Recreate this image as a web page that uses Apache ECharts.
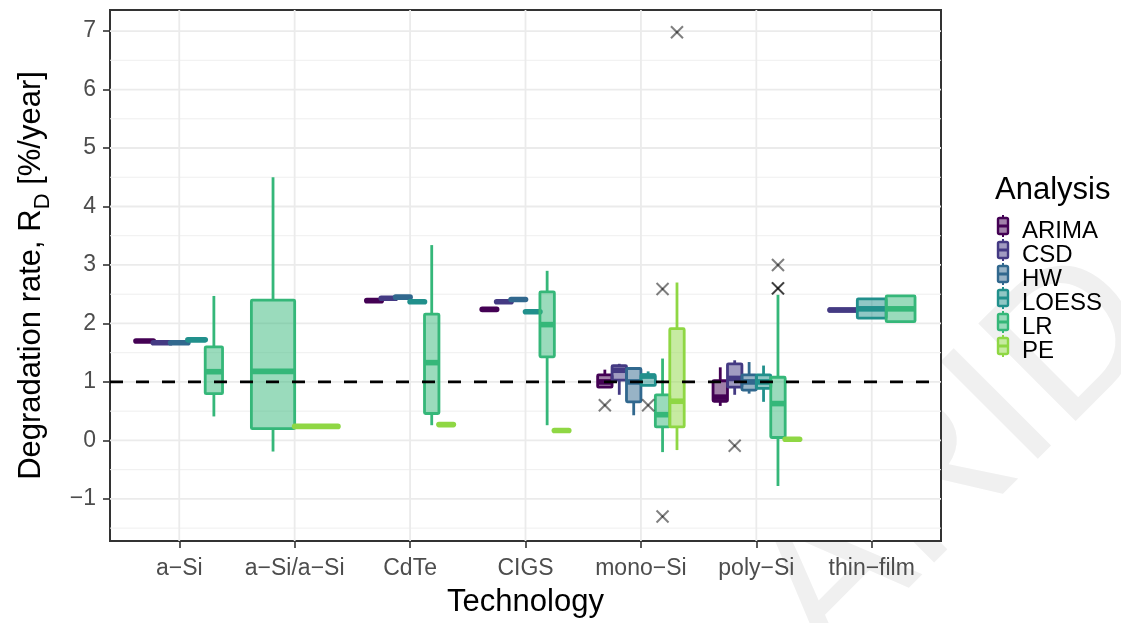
<!DOCTYPE html>
<html>
<head>
<meta charset="utf-8">
<script src="https://cdn.jsdelivr.net/npm/echarts@6/dist/echarts.min.js"></script>
<style>
  html, body { margin: 0; padding: 0; background: #ffffff; }
  #chart { width: 1121px; height: 623px; }
</style>
</head>
<body>
<div id="chart"></div>
<script>
// Technologies on the x axis and the degradation-rate estimators compared for each
const technologies = ['a−Si', 'a−Si/a−Si', 'CdTe', 'CIGS', 'mono−Si', 'poly−Si', 'thin−film'];
const analyses = ['ARIMA', 'CSD', 'HW', 'LOESS', 'LR', 'PE'];
const colors = ['#440154', '#443A83', '#31688E', '#21908C', '#35B779', '#8FD744'];

const yTicks = [-1, 0, 1, 2, 3, 4, 5, 6, 7];
const yMinor = [-1.5, -0.5, 0.5, 1.5, 2.5, 3.5, 4.5, 5.5, 6.5];
const referenceRate = 1;

// Box summaries per technology: [lower whisker, Q1, median, Q3, upper whisker]
const arima = [
  [1.70, 1.70, 1.70, 1.70, 1.70], null, [2.39, 2.39, 2.39, 2.39, 2.39], [2.24, 2.24, 2.24, 2.24, 2.24],
  [0.91, 0.91, 1.00, 1.12, 1.21], [0.59, 0.67, 0.74, 1.02, 1.25], null
];
const csd = [
  [1.67, 1.67, 1.67, 1.67, 1.67], null, [2.43, 2.43, 2.43, 2.43, 2.43], [2.37, 2.37, 2.37, 2.37, 2.37],
  [0.78, 1.03, 1.20, 1.28, 1.31], [0.78, 0.91, 1.06, 1.31, 1.37], [2.21, 2.21, 2.23, 2.25, 2.25]
];
const hw = [
  [1.67, 1.67, 1.67, 1.67, 1.67], null, [2.45, 2.45, 2.45, 2.45, 2.45], [2.41, 2.41, 2.41, 2.41, 2.41],
  [0.43, 0.66, 1.00, 1.23, 1.23], [0.80, 0.86, 1.00, 1.12, 1.34], null
];
const loess = [
  [1.72, 1.72, 1.72, 1.72, 1.72], null, [2.37, 2.37, 2.37, 2.37, 2.37], [2.20, 2.20, 2.20, 2.20, 2.20],
  [0.94, 0.94, 1.10, 1.12, 1.18], [0.66, 0.89, 1.00, 1.12, 1.28], [2.09, 2.09, 2.25, 2.42, 2.42]
];
const lr = [
  [0.41, 0.80, 1.175, 1.60, 2.47], [-0.19, 0.20, 1.18, 2.40, 4.50], [0.26, 0.46, 1.33, 2.16, 3.34],
  [0.26, 1.43, 1.98, 2.54, 2.90], [-0.20, 0.23, 0.44, 0.78, 1.40], [-0.78, 0.05, 0.63, 1.08, 2.49],
  [2.03, 2.03, 2.25, 2.47, 2.47]
];
const pe = [
  null, [0.24, 0.24, 0.24, 0.24, 0.24], [0.27, 0.27, 0.27, 0.27, 0.27], [0.17, 0.17, 0.17, 0.17, 0.17],
  [-0.165, 0.23, 0.67, 1.91, 2.70], [0.02, 0.02, 0.02, 0.02, 0.02], null
];

// Outlying estimates: [technology index, rate]
const arimaOutliers = [[4, 0.60]];
const csdOutliers = [[5, -0.09]];
const hwOutliers = [];
const loessOutliers = [[4, 0.60]];
const lrOutliers = [[4, 2.59], [4, -1.30], [5, 2.60], [5, 2.60], [5, 3.00]];
const peOutliers = [[4, 6.98]];

const boxSets = [arima, csd, hw, loess, lr, pe];
const outlierSets = [arimaOutliers, csdOutliers, hwOutliers, loessOutliers, lrOutliers, peOutliers];

// Dodge boxes side by side within each technology, sharing a total width of 0.75
const dodgeWidth = 0.75;
function slot(techIdx, seriesIdx) {
  const present = [];
  boxSets.forEach((set, i) => { if (set[techIdx]) present.push(i); });
  const n = present.length;
  const k = present.indexOf(seriesIdx);
  const w = dodgeWidth / n;
  return { x: techIdx - dodgeWidth / 2 + (k + 0.5) * w, w: w };
}

function hexToRgba(hex, a) {
  const v = parseInt(hex.slice(1), 16);
  return 'rgba(' + ((v >> 16) & 255) + ',' + ((v >> 8) & 255) + ',' + (v & 255) + ',' + a + ')';
}

function boxRenderer(color) {
  return function (params, api) {
    const x = api.value(0), w = api.value(6);
    const pLo = api.coord([x, api.value(1)]);
    const pQ1 = api.coord([x, api.value(2)]);
    const pMed = api.coord([x, api.value(3)]);
    const pQ3 = api.coord([x, api.value(4)]);
    const pHi = api.coord([x, api.value(5)]);
    const half = api.size([w, 0])[0] / 2;
    const lineW = 2.8;
    const flat = pQ1[1] - pQ3[1] < 1;
    const children = [];
    if (pHi[1] < pQ3[1]) {
      children.push({ type: 'line', shape: { x1: pQ3[0], y1: pQ3[1], x2: pHi[0], y2: pHi[1] },
        style: { stroke: color, lineWidth: lineW } });
    }
    if (pLo[1] > pQ1[1]) {
      children.push({ type: 'line', shape: { x1: pQ1[0], y1: pQ1[1], x2: pLo[0], y2: pLo[1] },
        style: { stroke: color, lineWidth: lineW } });
    }
    children.push({ type: 'rect',
      shape: { x: pQ1[0] - half, y: pQ3[1], width: half * 2, height: pQ1[1] - pQ3[1], r: 1 },
      style: { fill: hexToRgba(color, 0.5), stroke: color, lineWidth: lineW, lineJoin: 'round' } });
    children.push({ type: 'line',
      shape: { x1: pMed[0] - half, y1: pMed[1], x2: pMed[0] + half, y2: pMed[1] },
      style: { stroke: color, lineWidth: 5.6, lineCap: flat ? 'round' : 'butt' } });
    return { type: 'group', children: children };
  };
}

function outlierRenderer(params, api) {
  const p = api.coord([api.value(0), api.value(1)]);
  const s = 6;
  const style = { stroke: 'rgba(0,0,0,0.5)', lineWidth: 2 };
  return { type: 'group', children: [
    { type: 'line', shape: { x1: p[0] - s, y1: p[1] - s, x2: p[0] + s, y2: p[1] + s }, style: style },
    { type: 'line', shape: { x1: p[0] - s, y1: p[1] + s, x2: p[0] + s, y2: p[1] - s }, style: style }
  ] };
}

const series = [];

// Panel grid lines
series.push({
  type: 'custom', name: 'gridY', silent: true, z: 1, clip: false,
  data: yTicks.map(v => [0, v]),
  renderItem: function (params, api) {
    const cs = params.coordSys;
    const y = api.coord([0, api.value(1)])[1];
    return { type: 'line', shape: { x1: cs.x, y1: y, x2: cs.x + cs.width, y2: y },
      style: { stroke: '#EBEBEB', lineWidth: 1.8 } };
  }
});
series.push({
  type: 'custom', name: 'gridYMinor', silent: true, z: 1, clip: false,
  data: yMinor.map(v => [0, v]),
  renderItem: function (params, api) {
    const cs = params.coordSys;
    const y = api.coord([0, api.value(1)])[1];
    return { type: 'line', shape: { x1: cs.x, y1: y, x2: cs.x + cs.width, y2: y },
      style: { stroke: '#EFEFEF', lineWidth: 1 } };
  }
});
series.push({
  type: 'custom', name: 'gridX', silent: true, z: 1, clip: false,
  data: technologies.map((t, i) => [i, 0]),
  renderItem: function (params, api) {
    const cs = params.coordSys;
    const x = api.coord([api.value(0), 0])[0];
    return { type: 'line', shape: { x1: x, y1: cs.y, x2: x, y2: cs.y + cs.height },
      style: { stroke: '#EBEBEB', lineWidth: 1.8 } };
  }
});

// Box plots, one series per analysis method
analyses.forEach((name, si) => {
  const data = [];
  boxSets[si].forEach((b, ti) => {
    if (!b) return;
    const s = slot(ti, si);
    data.push([s.x, b[0], b[1], b[2], b[3], b[4], s.w]);
  });
  series.push({
    type: 'custom', name: name, z: 2, silent: true,
    itemStyle: { color: colors[si] },
    encode: { x: 0, y: [1, 2, 3, 4, 5] },
    data: data,
    renderItem: boxRenderer(colors[si])
  });
});

// Outlying points, placed at the dodged position of their box
const outlierData = [];
outlierSets.forEach((set, si) => {
  set.forEach(o => { outlierData.push([slot(o[0], si).x, o[1]]); });
});
series.push({
  type: 'custom', name: 'outliers', z: 3, silent: true,
  data: outlierData,
  renderItem: outlierRenderer
});

// Dashed reference line at 1 %/year
series.push({
  type: 'custom', name: 'reference', z: 4, silent: true, clip: false,
  data: [[0, referenceRate]],
  renderItem: function (params, api) {
    const cs = params.coordSys;
    const y = api.coord([0, api.value(1)])[1];
    return { type: 'line', shape: { x1: cs.x, y1: y, x2: cs.x + cs.width, y2: y },
      style: { stroke: '#000000', lineWidth: 2.8, lineDash: [13, 13] } };
  }
});

// Legend layout: text comes from the legend component, keys are drawn as small box glyphs
const legendLeft = 997, legendTop = 214, legendRow = 24;
const legendKeys = analyses.map((name, i) => {
  const cx = legendLeft + 6, cy = legendTop + legendRow / 2 + i * legendRow;
  const c = colors[i];
  return { type: 'group', silent: true, children: [
    { type: 'line', shape: { x1: cx, y1: cy - 11, x2: cx, y2: cy + 11 }, style: { stroke: c, lineWidth: 2 } },
    { type: 'rect', shape: { x: cx - 5, y: cy - 8, width: 10, height: 16, r: 1.5 },
      style: { fill: '#ffffff', stroke: 'none' } },
    { type: 'rect', shape: { x: cx - 5, y: cy - 8, width: 10, height: 16, r: 1.5 },
      style: { fill: hexToRgba(c, 0.5), stroke: c, lineWidth: 2.4 } },
    { type: 'line', shape: { x1: cx - 5, y1: cy, x2: cx + 5, y2: cy }, style: { stroke: c, lineWidth: 3 } }
  ] };
});

const chart = echarts.init(document.getElementById('chart'), null, { renderer: 'canvas' });
chart.setOption({
  animation: false,
  backgroundColor: '#ffffff',
  textStyle: { fontFamily: 'Liberation Sans, Arial, sans-serif' },
  graphic: [
    { type: 'text', z: -10, x: 860, y: 700, rotation: Math.PI / 4, silent: true,
      style: { text: 'ARID', fill: '#F0F0F0', font: '200px "Liberation Sans", Arial, sans-serif',
        textAlign: 'left', textVerticalAlign: 'bottom' } },
    { type: 'text', x: 995, y: 190,
      style: { text: 'Analysis', fill: '#000000', font: '31px "Liberation Sans", Arial, sans-serif',
        textAlign: 'left', textVerticalAlign: 'middle' } }
  ].concat(legendKeys),
  grid: {
    left: 110, right: 180, top: 10, bottom: 80,
    show: true, backgroundColor: '#ffffff', borderColor: '#333333', borderWidth: 2
  },
  legend: {
    data: analyses.map(n => ({ name: n, icon: 'rect', itemStyle: { opacity: 0 } })),
    orient: 'vertical', left: legendLeft, top: legendTop,
    itemWidth: 12, itemHeight: legendRow, itemGap: 0,
    selectedMode: false,
    textStyle: { fontSize: 24, color: '#000000', padding: [0, 0, 0, 3],
      fontFamily: 'Liberation Sans, Arial, sans-serif' }
  },
  xAxis: {
    type: 'value', min: -0.6, max: 6.6,
    name: 'Technology', nameLocation: 'middle', nameGap: 46,
    nameTextStyle: { fontSize: 31, color: '#000000' },
    axisLine: { show: false, onZero: false },
    axisTick: { show: true, length: 7, customValues: technologies.map((t, i) => i),
      lineStyle: { color: '#333333', width: 1.6 } },
    axisLabel: { customValues: technologies.map((t, i) => i), margin: 16,
      fontSize: 23, color: '#4D4D4D', formatter: v => technologies[Math.round(v)] },
    splitLine: { show: false }
  },
  yAxis: {
    type: 'value', min: -1.72, max: 7.36,
    name: '{n|Degradation rate, R}{s|D}{n| [%/year]}',
    nameLocation: 'middle', nameGap: 62,
    nameTextStyle: { rich: {
      n: { fontSize: 31, color: '#000000', lineHeight: 34 },
      s: { fontSize: 22, color: '#000000', lineHeight: 34, verticalAlign: 'bottom', padding: [0, 0, -6, 0] }
    } },
    axisLine: { show: false, onZero: false },
    axisTick: { show: true, length: 7, customValues: yTicks,
      lineStyle: { color: '#333333', width: 1.6 } },
    axisLabel: { customValues: yTicks, margin: 14, fontSize: 23, color: '#4D4D4D',
      formatter: v => (v < 0 ? '−' + Math.abs(v) : String(v)) },
    splitLine: { show: false }
  },
  series: series
});
</script>
</body>
</html>
